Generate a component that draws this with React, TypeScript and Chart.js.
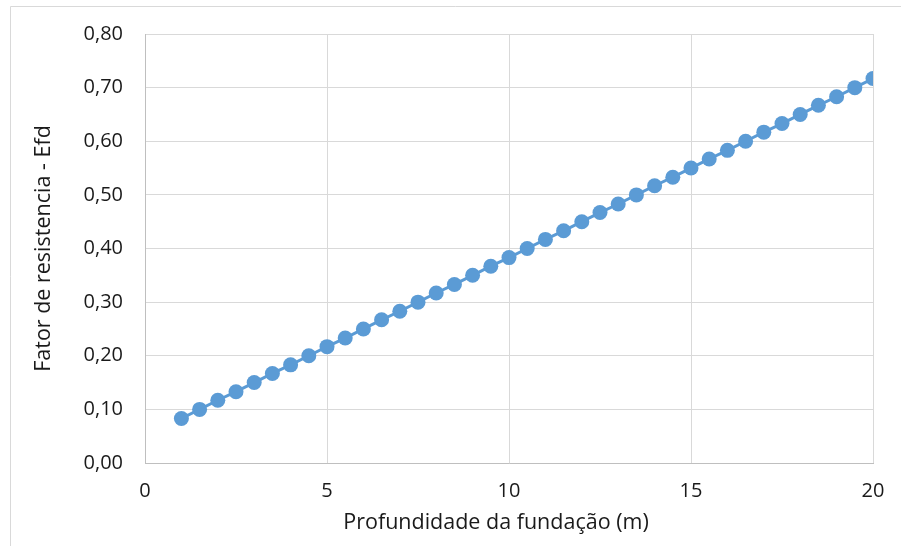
import React, { useEffect, useRef } from "react";
import { Chart, registerables } from "chart.js";

Chart.register(...registerables);

const depths = [1, 1.5, 2, 2.5, 3, 3.5, 4, 4.5, 5, 5.5, 6, 6.5, 7, 7.5, 8, 8.5, 9, 9.5, 10, 10.5, 11, 11.5, 12, 12.5, 13, 13.5, 14, 14.5, 15, 15.5, 16, 16.5, 17, 17.5, 18, 18.5, 19, 19.5, 20];
const factors = [0.083, 0.100, 0.117, 0.133, 0.150, 0.167, 0.183, 0.200, 0.217, 0.233, 0.250, 0.267, 0.283, 0.300, 0.317, 0.333, 0.350, 0.367, 0.383, 0.400, 0.417, 0.433, 0.450, 0.467, 0.483, 0.500, 0.517, 0.533, 0.550, 0.567, 0.583, 0.600, 0.617, 0.633, 0.650, 0.667, 0.683, 0.700, 0.717];
const xTitle = "Profundidade da fundação (m)";
const yTitle = "Fator de resistencia - Efd";

const FONT = "'Open Sans', Lato, sans-serif";

const framePlugin = {
  id: "frame",
  beforeDraw(chart: any) {
    const ctx = chart.ctx;
    ctx.save();
    ctx.strokeStyle = "#d9d9d9";
    ctx.lineWidth = 1;
    ctx.beginPath();
    ctx.moveTo(10.5, 546);
    ctx.lineTo(10.5, 6.5);
    ctx.lineTo(901, 6.5);
    ctx.stroke();
    ctx.restore();
  },
  afterDraw(chart: any) {
    const ctx = chart.ctx;
    const a = chart.chartArea;
    ctx.save();
    ctx.fillStyle = "#1a1a1a";
    ctx.font = `21.5px ${FONT}`;
    ctx.textAlign = "center";
    ctx.textBaseline = "middle";
    ctx.fillText(xTitle, (a.left + a.right) / 2 - 13, a.bottom + 60);
    ctx.restore();
  },
};

export default function App() {
  const ref = useRef<HTMLCanvasElement>(null);
  useEffect(() => {
    if (!ref.current) return;
    const chart = new Chart(ref.current, {
      type: "scatter",
      data: {
        datasets: [
          {
            data: depths.map((x, i) => ({ x, y: factors[i] })),
            showLine: true,
            borderColor: "#5b9bd5",
            backgroundColor: "#5b9bd5",
            borderWidth: 3,
            pointRadius: 7.5,
            pointBorderWidth: 0,
            pointHoverRadius: 7.5,
          },
        ],
      },
      plugins: [framePlugin],
      options: {
        responsive: false,
        animation: false,
        layout: { padding: { left: 0, top: 33, right: 28, bottom: 0 } },
        plugins: { legend: { display: false }, tooltip: { enabled: false } },
        scales: {
          x: {
            type: "linear",
            min: 0,
            max: 20,
            ticks: { stepSize: 5, padding: 16, color: "#1a1a1a", font: { family: FONT, size: 20 } },
            grid: { color: "#d9d9d9", drawTicks: false },
            border: { color: "#bfbfbf" },
            afterFit(scale: any) {
              scale.height = 83;
            },
          },
          y: {
            min: 0,
            max: 0.8,
            ticks: {
              stepSize: 0.1,
              padding: 22,
              color: "#1a1a1a",
              font: { family: FONT, size: 20 },
              callback: (v: any) => Number(v).toFixed(2).replace(".", ","),
            },
            grid: { color: "#d9d9d9", drawTicks: false },
            border: { color: "#bfbfbf" },
            title: {
              display: true,
              text: yTitle,
              color: "#1a1a1a",
              font: { family: FONT, size: 21.5 },
              padding: { top: 31, bottom: 0 },
            },
            afterFit(scale: any) {
              scale.width = 145;
            },
          },
        },
      },
    });
    return () => chart.destroy();
  }, []);
  return (
    <div style={{ position: "absolute", left: 0, top: 0, width: 901, height: 546, background: "#fff" }}>
      <canvas ref={ref} width={901} height={546} />
    </div>
  );
}
